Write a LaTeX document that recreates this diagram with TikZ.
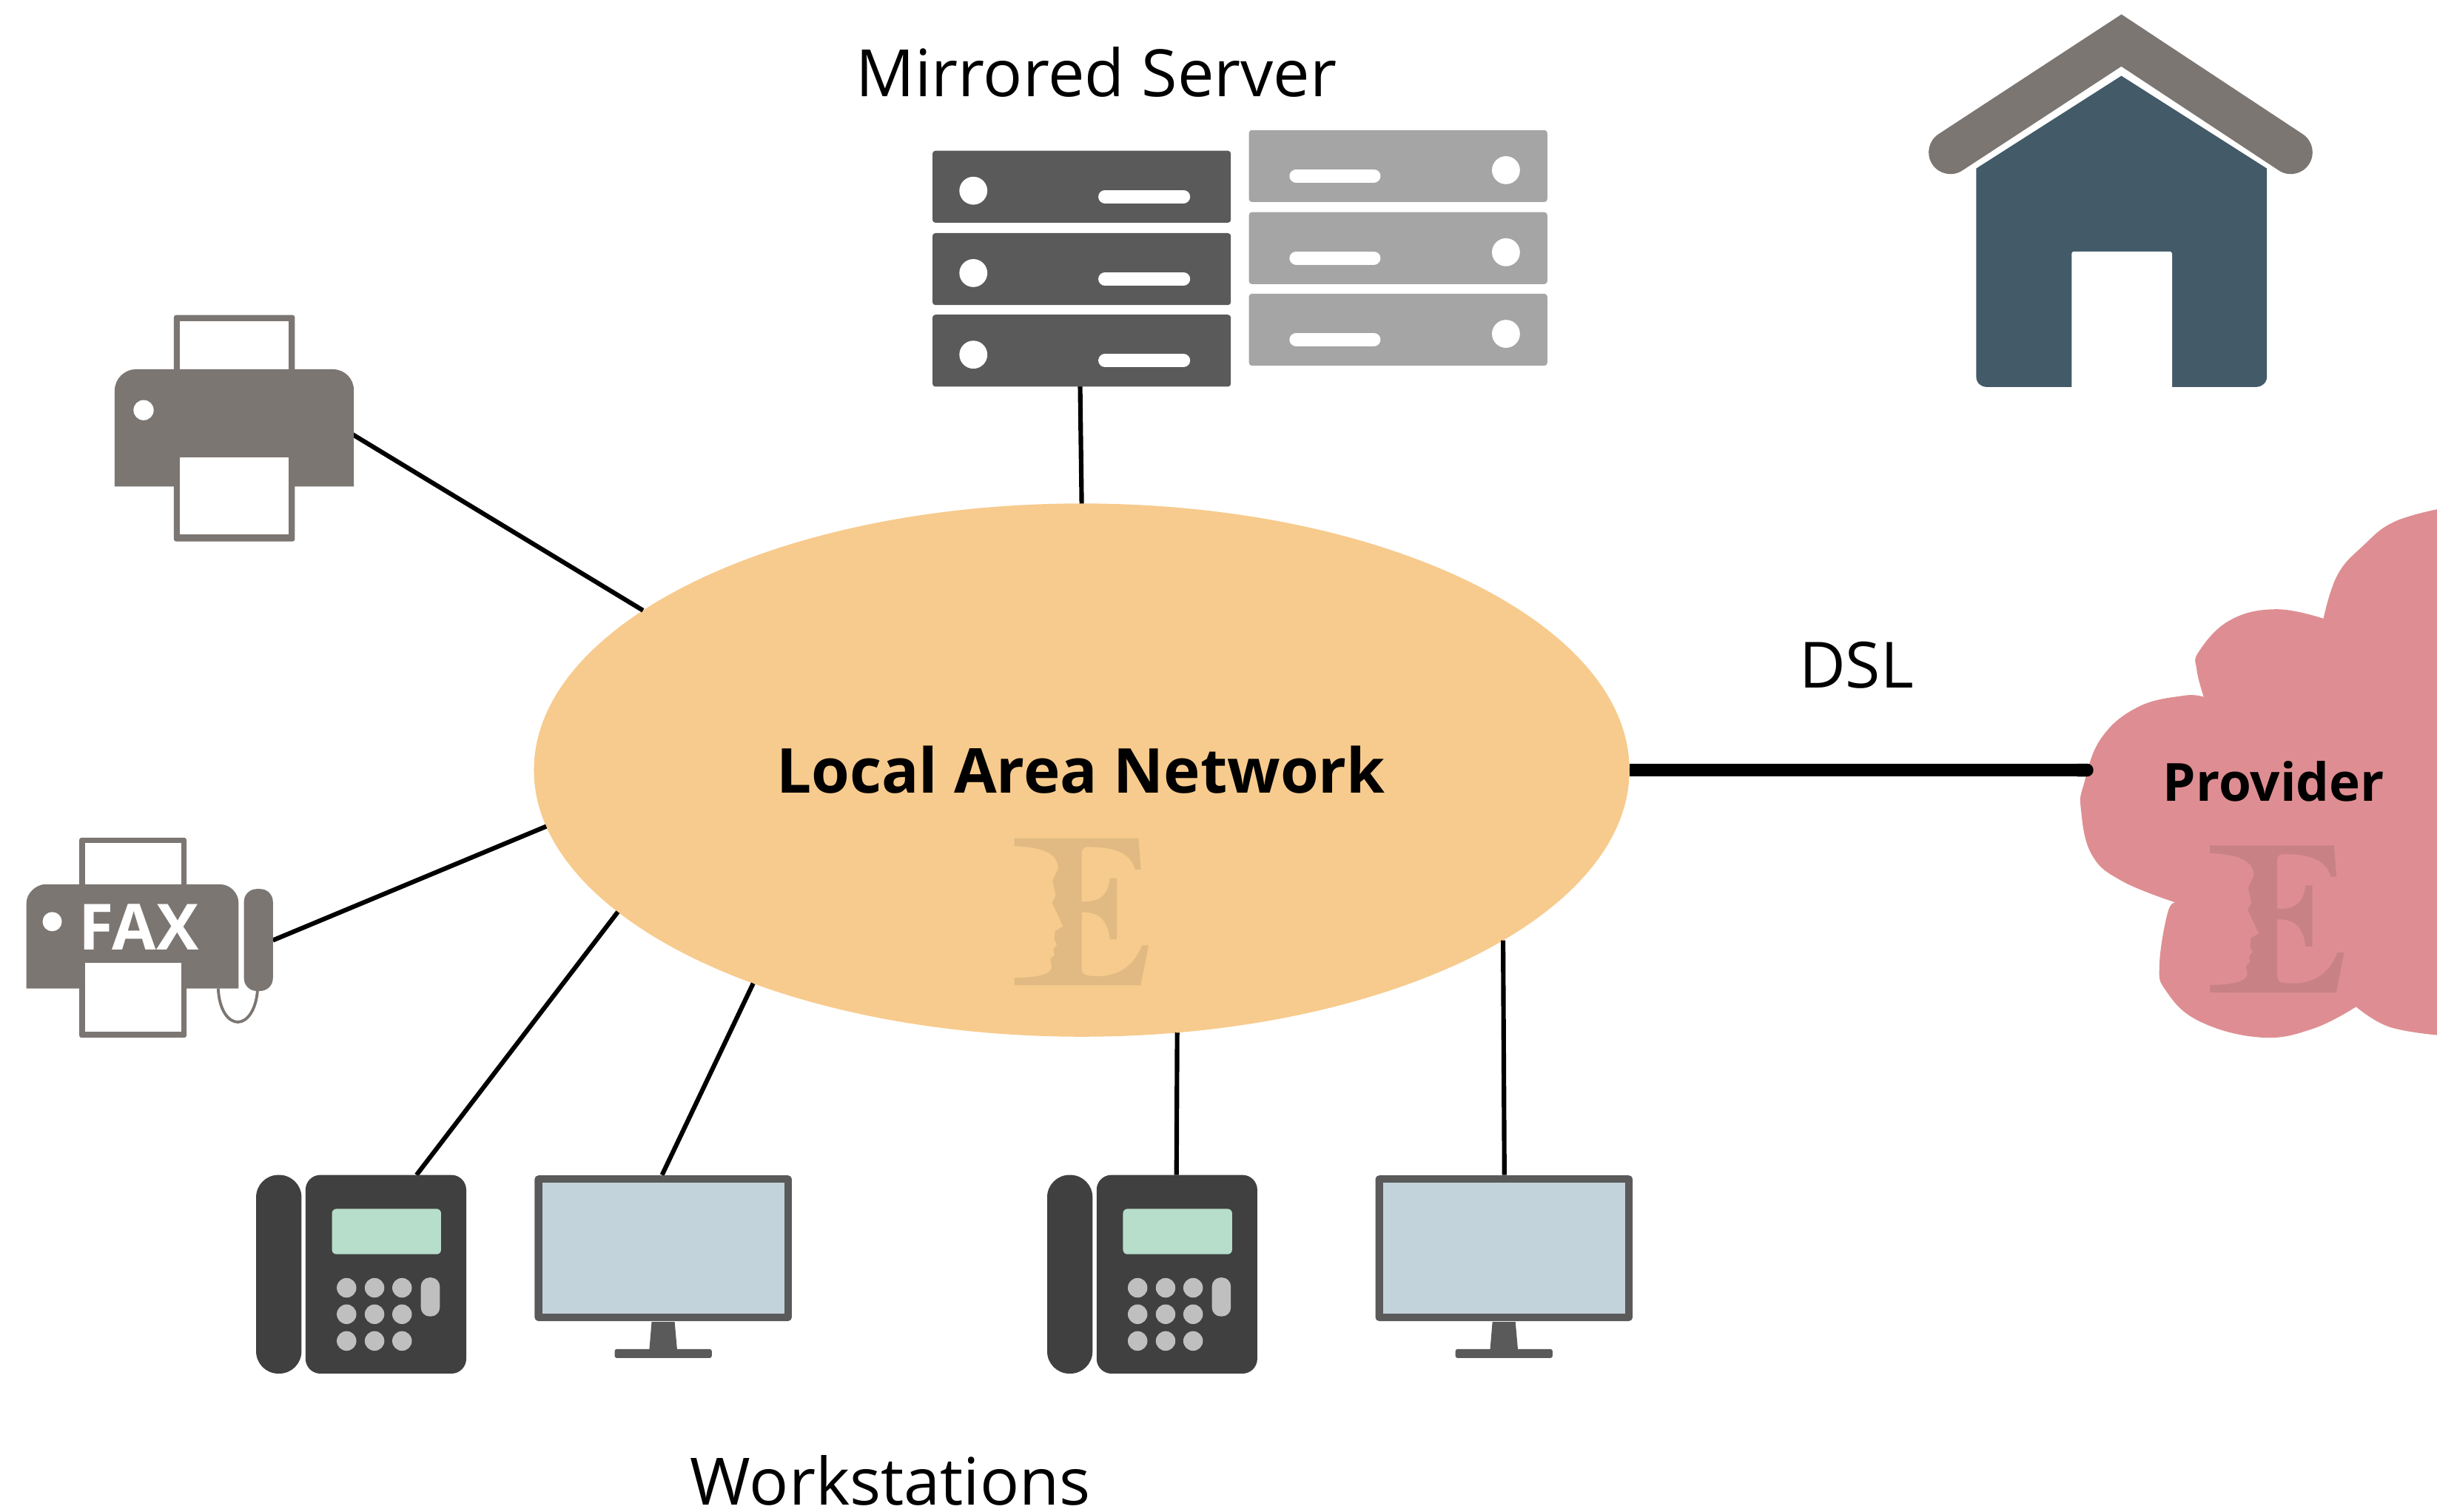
\documentclass[tikz,border=0pt]{standalone}
\usepackage{fontspec}
\usetikzlibrary{shapes.geometric,arrows.meta}
\setmainfont{Open Sans}
\definecolor{lanfill}{HTML}{F7CB8D}
\definecolor{lanmark}{HTML}{E0BA82}
\definecolor{cloudfill}{HTML}{DE8E92}
\definecolor{cloudmark}{HTML}{C88286}
\definecolor{officegray}{HTML}{7C7673}
\definecolor{phonedark}{HTML}{404040}
\definecolor{phonekey}{HTML}{BFBFBF}
\definecolor{phonelcd}{HTML}{B7DDCB}
\definecolor{serverdark}{HTML}{5A5A5A}
\definecolor{serverlight}{HTML}{A5A5A5}
\definecolor{monedge}{HTML}{5A5A5A}
\definecolor{monscreen}{HTML}{C3D3DB}
\definecolor{housewall}{HTML}{435A68}
\tikzset{
  link/.style={black,line width=1.75pt},
  thicklink/.style={black,line width=5pt,-{Round Cap}},
  label/.style={inner sep=0pt,font=\fontsize{25.1}{28}\selectfont},
  boldlabel/.style={inner sep=0pt,font=\fontsize{23.8}{28}\selectfont\bfseries},
  phone/.pic={
    \fill[phonedark,rounded corners=0.3cm] (-68.2,0) rectangle (-39,127.8);
    \fill[phonedark,rounded corners=0.2cm] (-36.4,0) rectangle (67,127.8);
    \fill[phonelcd,rounded corners=0.06cm] (-19.4,21.8) rectangle (50.8,51);
    \fill[phonekey,rounded corners=0.12cm] (37.8,66) rectangle (50,91);
    \foreach \cx in {-10,8,25.7} \foreach \cy in {72.6,89.6,106.8}
      \fill[phonekey] (\cx,\cy) circle (6.3);
  },
  monitor/.pic={
    \fill[monedge,rounded corners=0.05cm] (0,0.3) rectangle (165.5,94);
    \fill[monscreen] (5,4.8) rectangle (160.6,89.2);
    \fill[monedge] (75.3,94.5) -- (90.1,94.5) -- (91.7,112.5) -- (73.8,112.5) -- cycle;
    \fill[monedge,rounded corners=0.03cm] (51.5,112) rectangle (114,117.8);
  },
  serverunit/.pic={
    \fill[rounded corners=0.04cm] (0,0) rectangle (192,46.3);
  },
}
\newcommand{\wmE}{%
  \fill (0,0) -- (504,0) -- (514,127) -- (491,127)
    .. controls (470,55) and (400,35) .. (298,35)
    .. controls (280,35) and (273,45) .. (273,62)
    -- (273,257) .. controls (350,260) and (380,230) .. (388,162)
    -- (416,162) -- (416,410) -- (388,410)
    .. controls (380,340) and (350,298) .. (273,300)
    -- (273,532) .. controls (273,552) and (285,560) .. (338,560)
    .. controls (430,560) and (490,510) .. (518,435)
    -- (545,435) -- (513,597) -- (0,597) -- (0,567)
    .. controls (90,565) and (148,555) .. (152,522)
    -- (146,490) -- (163,474) -- (158,452) -- (173,432) -- (163,412)
    -- (165,377) -- (198,357) -- (153,262) -- (168,232) -- (155,172)
    -- (178,122) .. controls (178,60) and (110,35) .. (0,32) -- cycle;
}
\begin{document}
\begin{tikzpicture}[x=0.021cm,y=-0.021cm]
\useasboundingbox (0,0) rectangle (1568.1,972.4);

% connector end points on the devices
\coordinate (printerport) at (227,279.6);
\coordinate (faxport) at (175.6,605);
\coordinate (phoneaport) at (268,756);
\coordinate (monaport) at (426,756);
\coordinate (phonebport) at (757,756);
\coordinate (monbport) at (968,756);
\coordinate (serverport) at (695,248);
\coordinate (cloudport) at (1347,495.5);

% provider cloud
\fill[cloudfill]
  plot[smooth,tension=.7] coordinates {(1568.2,327.7) (1540,336) (1520.7,351) (1504,370) (1495,398)}
  -- plot[smooth,tension=.7] coordinates {(1495,398) (1464.6,392) (1435,399) (1415,419) (1413.5,431) (1418,448.5)}
  -- plot[smooth,tension=.7] coordinates {(1418,448.5) (1405,447.6) (1375.5,455) (1352,475) (1341,504) (1339,521) (1346,550) (1365.6,567) (1400.7,581)}
  -- plot[smooth,tension=.7] coordinates {(1400.7,581) (1395,586.5) (1389.5,620.5) (1393.7,637.5) (1415,657) (1454.7,667.5) (1488,662) (1516,647.8)}
  -- plot[smooth,tension=.7] coordinates {(1516,647.8) (1537,660.6) (1568.2,666)}
  -- cycle;
\begin{scope}[shift={(1422,544)},x=0.003333cm,y=-0.003333cm]
  \begin{scope}[cloudmark]\wmE\end{scope}
\end{scope}

% network ellipse
\node[ellipse,fill=lanfill,inner sep=0pt,outer sep=0pt,minimum width=14.80cm,minimum height=7.203cm] (lan) at (696,495.5) {};
\begin{scope}[shift={(652.7,539.4)},x=0.003333cm,y=-0.003333cm]
  \begin{scope}[lanmark]\wmE\end{scope}
\end{scope}

% connectors
\draw[link] (printerport) -- (lan.160);
\draw[link] (faxport) -- (lan.186);
\draw[link] (phoneaport) -- (lan.197.1);
\draw[link] (monaport) -- (lan.213);
\draw[link] (phonebport) -- (lan.290);
\draw[link] (monbport) -- (lan.338.7);
\draw[link] (serverport) -- (lan.90);
\draw[thicklink] (lan.0) -- (cloudport);

% servers
\foreach \sy in {97,150,202.5} {
  \pic[serverdark] at (600,\sy) {serverunit};
  \fill[white] (626.3,\sy+25.7) circle (9);
  \draw[white,line width=8.6*0.021cm,line cap=round] (711,\sy+29.5) -- (761.5,\sy+29.5);
}
\foreach \sy in {83.7,136.5,189} {
  \pic[serverlight] at (803.6,\sy) {serverunit};
  \fill[white] (969,\sy+25.8) circle (9);
  \draw[white,line width=8.6*0.021cm,line cap=round] (834,\sy+29.5) -- (884,\sy+29.5);
}

% printer
\fill[officegray,rounded corners=0.03cm] (111.9,202.7) rectangle (189.7,245);
\fill[white] (115.9,206.8) rectangle (185.7,245);
\fill[officegray] (73.8,313) -- (73.8,251.1) .. controls (73.8,243.6) and (80.3,237.6) .. (87.3,237.6) -- (214.2,237.6) .. controls (221.7,237.6) and (227.7,243.6) .. (227.7,251.1) -- (227.7,313) -- cycle;
\fill[officegray,rounded corners=0.03cm] (111.9,290) rectangle (189.7,348.4);
\fill[white] (115.9,294.3) rectangle (185.7,343.9);
\fill[white] (92.4,263.9) circle (6.5);

% fax
\fill[officegray,rounded corners=0.03cm] (51,539) rectangle (120,575);
\fill[white] (54.6,542.5) rectangle (116.7,575);
\fill[officegray] (17,636) -- (17,581) .. controls (17,574.4) and (23.6,569) .. (29,569) -- (141.5,569) .. controls (148,569) and (153.5,574.4) .. (153.5,581) -- (153.5,636) -- cycle;
\draw[officegray,line width=1.1pt] (140.4,636) .. controls (141,650) and (147,657.6) .. (153,657.6) .. controls (159,657.6) and (165,650) .. (165.8,636);
\fill[officegray,rounded corners=0.17cm] (157,572) rectangle (175.6,637.6);
\fill[officegray,rounded corners=0.03cm] (51,615) rectangle (120,667.7);
\fill[white] (54.6,619.7) rectangle (116.7,664);
\fill[white] (33.6,593) circle (6.2);
\node[inner sep=0pt,white,font=\fontsize{24.5}{28}\selectfont\bfseries] (faxlabel) at (89.3,596.5) {FAX};

% phones and monitors
\pic at (233,756) {phone};
\pic at (344,756) {monitor};
\pic at (742,756) {phone};
\pic at (885,756) {monitor};

% house
\draw[officegray,line width=28*0.021cm,line cap=round,line join=miter,miter limit=10] (1255,98) -- (1365,26) -- (1474,98);
\fill[housewall] (1271.6,108.4) -- (1365,48.8) -- (1458.6,108.4) -- (1458.6,242.5) .. controls (1458.6,246.5) and (1455,249) .. (1452,249) -- (1278,249) .. controls (1275,249) and (1271.6,246.5) .. (1271.6,242.5) -- cycle;
\fill[white,rounded corners=0.03cm] (1333,252) -- (1333,161.8) -- (1397.6,161.8) -- (1397.6,252) -- cycle;

% labels
\node[label] (servertext) at (705.5,46.5) {Mirrored Server};
\node[label,font=\fontsize{24.5}{28}\selectfont] (dsltext) at (1194.5,428) {DSL};
\node[label] (worktext) at (573,952.5) {Workstations};
\node[boldlabel] (lantext) at (695.5,495.5) {Local Area Network};
\node[boldlabel,font=\fontsize{20.2}{24}\selectfont\bfseries] (providertext) at (1463,503) {Provider};
\end{tikzpicture}
\end{document}
